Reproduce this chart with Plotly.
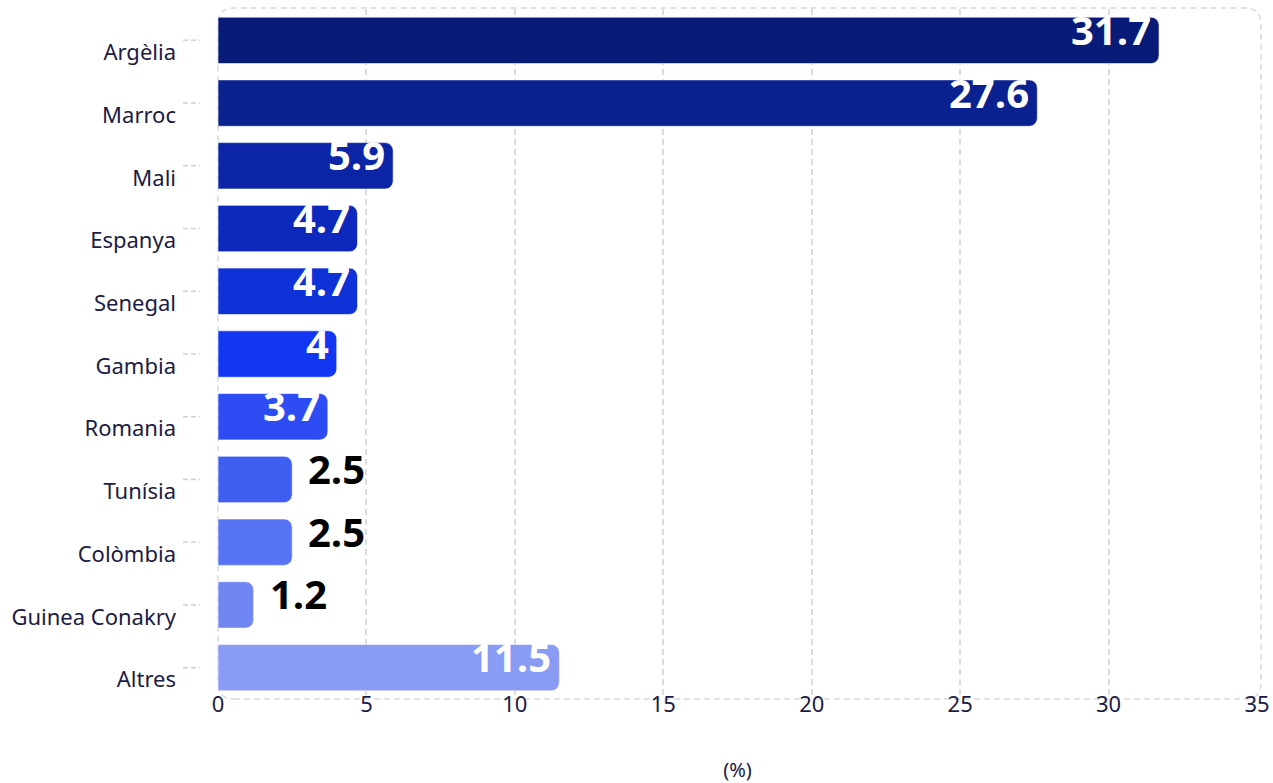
import plotly.graph_objects as go

categories = ["Argèlia", "Marroc", "Mali", "Espanya", "Senegal", "Gambia",
              "Romania", "Tunísia", "Colòmbia", "Guinea Conakry", "Altres"]
values = [31.7, 27.6, 5.9, 4.7, 4.7, 4.0, 3.7, 2.5, 2.5, 1.2, 11.5]
labels = ["31.7", "27.6", "5.9", "4.7", "4.7", "4", "3.7", "2.5", "2.5", "1.2", "11.5"]
colors = ["#081b78", "#0a2190", "#0c25a6", "#0d29bd", "#0f31d8", "#1236f2",
          "#2d4cf4", "#3f5ef2", "#5674f3", "#7086f3", "#8a9bf6"]
label_inside = [True] * 7 + [False] * 3 + [True]
x_ticks = [0, 5, 10, 15, 20, 25, 30, 35]

W, H = 1273, 783
ML, MR, MT, MB = 218, 16, 9, 84
pw, ph = W - ML - MR, H - MT - MB

fig = go.Figure(go.Bar(
    x=values, y=categories, orientation="h",
    marker=dict(color=colors, cornerradius=8,
                line=dict(color="rgba(255,255,255,0.6)", width=1)),
    width=0.74,
    hoverinfo="x+y",
))

# value labels
annotations = []
for c, v, t, inside in zip(categories, values, labels, label_inside):
    annotations.append(dict(
        x=v, y=c, xref="x", yref="y", text=f"<b>{t}</b>", showarrow=False,
        xanchor="right" if inside else "left",
        xshift=-6 if inside else 14, yshift=11,
        font=dict(family="Open Sans", size=40, color="white" if inside else "black"),
    ))

# dashed tick marks on the category axis
shapes = []
for c in categories:
    shapes.append(dict(type="line", xref="paper", yref="y",
                       x0=-35 / pw, x1=-18 / pw, y0=c, y1=c,
                       line=dict(color="#d0d0d0", width=1.5, dash="5px,3px")))

# rounded dashed plot border
rx, ry = 16 / pw, 16 / ph
x1b = 1 + 4 / pw
y1b = 1 + 1 / ph
path = (f"M {rx},0 L {x1b-rx},0 Q {x1b},0 {x1b},{ry} L {x1b},{y1b-ry} Q {x1b},{y1b} {x1b-rx},{y1b} "
        f"L {rx},{y1b} Q 0,{y1b} 0,{y1b-ry} L 0,{ry} Q 0,0 {rx},0 Z")
shapes.append(dict(type="path", xref="paper", yref="paper", path=path,
                   line=dict(color="#d9d9d9", width=1.5, dash="6px,4px"), layer="below"))

fig.update_layout(
    width=W, height=H,
    margin=dict(l=ML, r=MR, t=MT, b=MB, autoexpand=False),
    plot_bgcolor="white", paper_bgcolor="white",
    showlegend=False,
    shapes=shapes,
    annotations=annotations,
    font=dict(family="Noto Sans", color="#1b1b45"),
    xaxis=dict(range=[0, 35], tickvals=x_ticks, ticktext=[str(t) for t in x_ticks],
               showgrid=True, gridcolor="#dcdcdc", griddash="6px,4px", gridwidth=1.5,
               zeroline=False, showline=False, ticks="", automargin=False,
               tickfont=dict(size=22, color="#1b1b45"), ticklabelstandoff=-10,
               title=dict(text="(%)", font=dict(size=20, color="#1b1b45"), standoff=46)),
    yaxis=dict(categoryorder="array", categoryarray=categories[::-1],
               range=[-0.5, len(categories) - 0.5],
               showgrid=False, zeroline=False, showline=False, ticks="", automargin=False,
               tickfont=dict(size=22, color="#1b1b45"),
               ticklabelstandoff=41, ticklabelshift=12),
)

fig.write_html(
    "out.html",
    config={"displayModeBar": False},
    post_script="document.body.style.margin='0px';document.documentElement.style.overflow='hidden';",
)
